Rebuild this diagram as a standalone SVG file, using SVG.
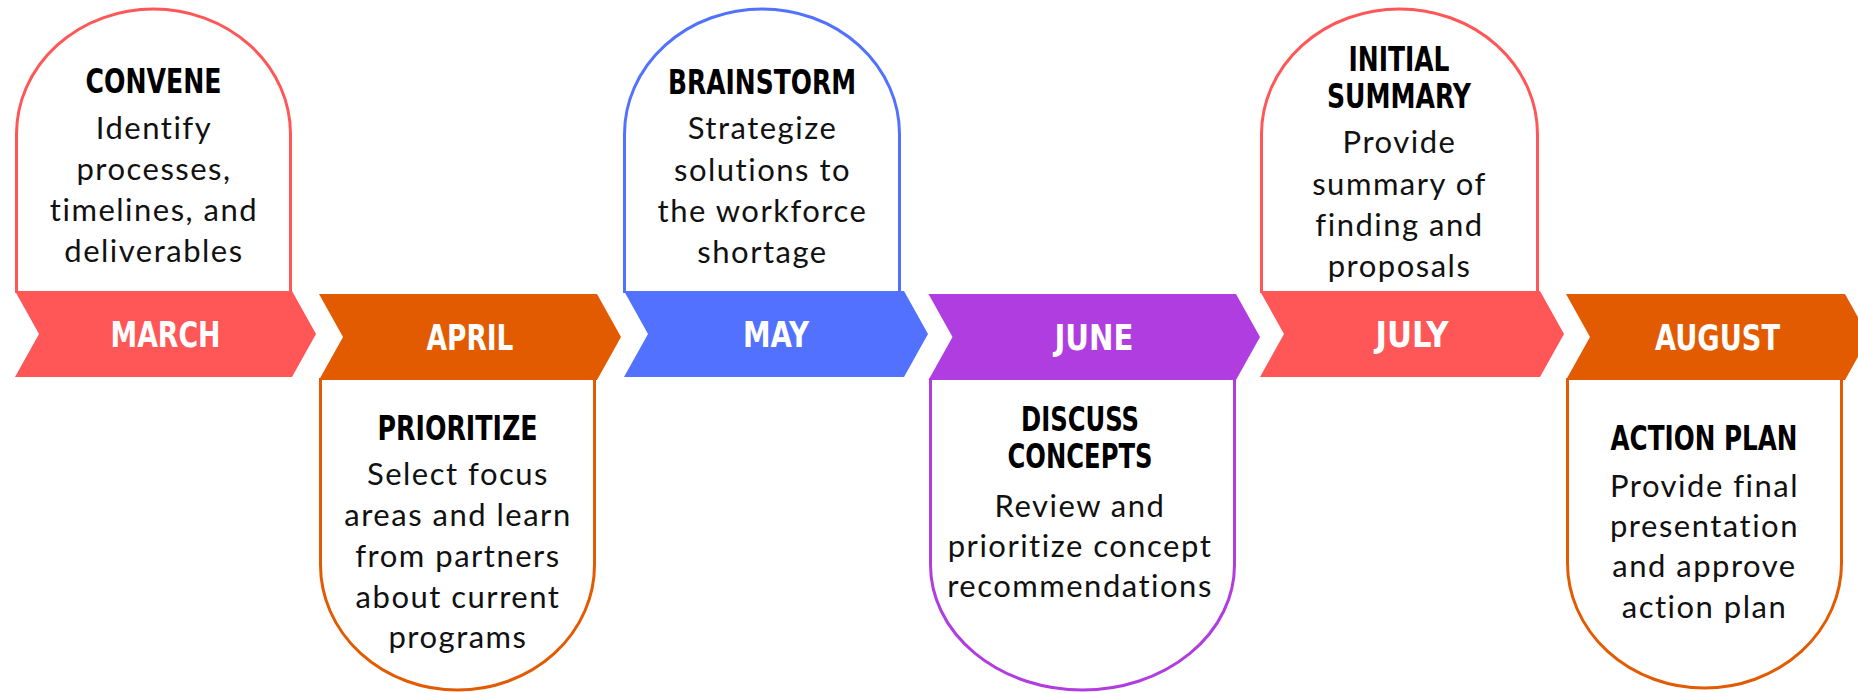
<svg xmlns="http://www.w3.org/2000/svg" width="1858" height="693" viewBox="0 0 1858 693">
<style>
.card{fill:#fff;stroke-width:3}
.title{font-family:"Liberation Sans Narrow","DejaVu Sans Condensed","Liberation Sans",sans-serif;font-weight:bold;font-size:33px;fill:#000;text-anchor:middle}
.body{font-family:Lato,"Noto Sans","Liberation Sans",sans-serif;font-size:31px;letter-spacing:1.5px;fill:#111;text-anchor:middle}
.month{font-family:"Liberation Sans Narrow","DejaVu Sans Condensed","Liberation Sans",sans-serif;font-weight:bold;font-size:35px;fill:#fff;text-anchor:middle}
.red{stroke:#FF5757}.redf{fill:#FF5757}
.org{stroke:#E35B00}.orgf{fill:#E35B00}
.blu{stroke:#5271FF}.bluf{fill:#5271FF}
.pur{stroke:#B03DDF}.purf{fill:#B03DDF}
</style>
<rect width="1858" height="693" fill="#fff"/>

<g id="march">
<path class="card red" d="M16.5,293 L16.5,134 A137,125 0 0 1 290.5,134 L290.5,293"/>
<polygon class="redf" points="15,291 292,291 316,334 292,377 15,377 39,334"/>
<text class="month" x="165.5" y="347" textLength="110" lengthAdjust="spacingAndGlyphs">MARCH</text>
<text class="title" x="153.5" y="93" textLength="136" lengthAdjust="spacingAndGlyphs">CONVENE</text>
<text class="body" x="154" y="139">Identify</text>
<text class="body" x="154" y="180">processes,</text>
<text class="body" x="154" y="221">timelines, and</text>
<text class="body" x="154" y="262">deliverables</text>
</g>

<g id="april">
<path class="card org" d="M320.5,378 L320.5,565 A137,125 0 0 0 594.5,565 L594.5,378"/>
<polygon class="orgf" points="319,294 597,294 621,337 597,380 319,380 343,337"/>
<text class="month" x="470" y="350" textLength="87" lengthAdjust="spacingAndGlyphs">APRIL</text>
<text class="title" x="457.5" y="440" textLength="160" lengthAdjust="spacingAndGlyphs">PRIORITIZE</text>
<text class="body" x="458" y="485">Select focus</text>
<text class="body" x="458" y="526">areas and learn</text>
<text class="body" x="458" y="567">from partners</text>
<text class="body" x="458" y="608">about current</text>
<text class="body" x="458" y="648">programs</text>
</g>

<g id="may">
<path class="card blu" d="M624.5,293 L624.5,134 A137.5,125 0 0 1 899.5,134 L899.5,293"/>
<polygon class="bluf" points="624,291 904,291 928,334 904,377 624,377 648,334"/>
<text class="month" x="776" y="347" textLength="66" lengthAdjust="spacingAndGlyphs">MAY</text>
<text class="title" x="762" y="94" textLength="188" lengthAdjust="spacingAndGlyphs">BRAINSTORM</text>
<text class="body" x="762.5" y="139">Strategize</text>
<text class="body" x="762.5" y="181">solutions to</text>
<text class="body" x="762.5" y="222">the workforce</text>
<text class="body" x="762.5" y="263">shortage</text>
</g>

<g id="june">
<path class="card pur" d="M930.5,378 L930.5,565 A152,125 0 0 0 1234.5,565 L1234.5,378"/>
<polygon class="purf" points="928.5,294 1236,294 1260,337 1236,380 928.5,380 952.5,337"/>
<text class="month" x="1094" y="350" textLength="79" lengthAdjust="spacingAndGlyphs">JUNE</text>
<text class="title" x="1080" y="431" textLength="118" lengthAdjust="spacingAndGlyphs">DISCUSS</text>
<text class="title" x="1080" y="468" textLength="145" lengthAdjust="spacingAndGlyphs">CONCEPTS</text>
<text class="body" x="1080" y="517">Review and</text>
<text class="body" x="1080" y="557">prioritize concept</text>
<text class="body" x="1080" y="597">recommendations</text>
</g>

<g id="july">
<path class="card red" d="M1261.5,293 L1261.5,134 A138,125 0 0 1 1537.5,134 L1537.5,293"/>
<polygon class="redf" points="1260,291 1540,291 1564,334 1540,377 1260,377 1284,334"/>
<text class="month" x="1412" y="347" textLength="73" lengthAdjust="spacingAndGlyphs">JULY</text>
<text class="title" x="1399" y="71" textLength="101" lengthAdjust="spacingAndGlyphs">INITIAL</text>
<text class="title" x="1399" y="108" textLength="144" lengthAdjust="spacingAndGlyphs">SUMMARY</text>
<text class="body" x="1399.5" y="153">Provide</text>
<text class="body" x="1399.5" y="195">summary of</text>
<text class="body" x="1399.5" y="236">finding and</text>
<text class="body" x="1399.5" y="277">proposals</text>
</g>

<g id="august">
<path class="card org" d="M1567.5,378 L1567.5,563 A137,125 0 0 0 1841.5,563 L1841.5,378"/>
<polygon class="orgf" points="1566,294 1845,294 1869,337 1845,380 1566,380 1590,337"/>
<text class="month" x="1717.5" y="350" textLength="125" lengthAdjust="spacingAndGlyphs">AUGUST</text>
<text class="title" x="1704" y="450" textLength="187" lengthAdjust="spacingAndGlyphs">ACTION PLAN</text>
<text class="body" x="1704.5" y="497">Provide final</text>
<text class="body" x="1704.5" y="537">presentation</text>
<text class="body" x="1704.5" y="577">and approve</text>
<text class="body" x="1704.5" y="618">action plan</text>
</g>
</svg>
